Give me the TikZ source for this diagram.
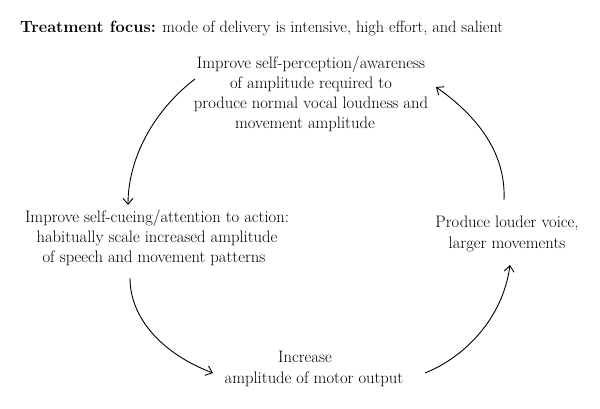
\documentclass[tikz,border=0pt]{standalone}
\usepackage{fontspec}
\usetikzlibrary{arrows.meta}
\tikzset{
  lbl/.style={align=center, inner sep=0pt, font=\fontsize{16.6}{20.2}\selectfont},
  titlelbl/.style={inner sep=0pt, font=\fontsize{16.3}{20}\selectfont},
  cyc/.style={line width=0.9pt, -{Straight Barb[length=6pt,width=10pt,line width=0.9pt]}}
}
\begin{document}
\begin{tikzpicture}[x=1pt,y=-1pt]
\useasboundingbox[fill=white] (0,0) rectangle (600,409);
\node[titlelbl, anchor=base west] (title) at (20,33) {\textbf{Treatment focus:} mode of delivery is intensive, high effort, and salient};
\node[lbl] (top) at (311,94) {Improve self-perception/awareness\\
of amplitude required to\hspace*{14pt}\\
produce normal vocal loudness and\\
movement amplitude\hspace*{12pt}};
\node[lbl] (left) at (157,238) {Improve self-cueing/attention to action:\\
habitually scale increased amplitude\hspace*{20pt}\\
of speech and movement patterns\hspace*{6pt}};
\node[lbl] (right) at (507,234) {Produce louder voice,\\ larger movements};
\node[lbl] (bottom) at (314,369) {Increase\hspace*{18pt}\\ amplitude of motor output};
\coordinate (a1s) at (195,79);
\coordinate (a1e) at (128,205);
\coordinate (a2s) at (130,278);
\coordinate (a2e) at (213,373);
\coordinate (a3s) at (425,373);
\coordinate (a3e) at (510,265);
\coordinate (a4s) at (504,200);
\coordinate (a4e) at (436,87);
\draw[cyc] (a1s) .. controls (152,112) and (128,160) .. (a1e);
\draw[cyc] (a2s) .. controls (130,320) and (165,355) .. (a2e);
\draw[cyc] (a3s) .. controls (465,357) and (503,318) .. (a3e);
\draw[cyc] (a4s) .. controls (506,155) and (480,118) .. (a4e);
\end{tikzpicture}
\end{document}
